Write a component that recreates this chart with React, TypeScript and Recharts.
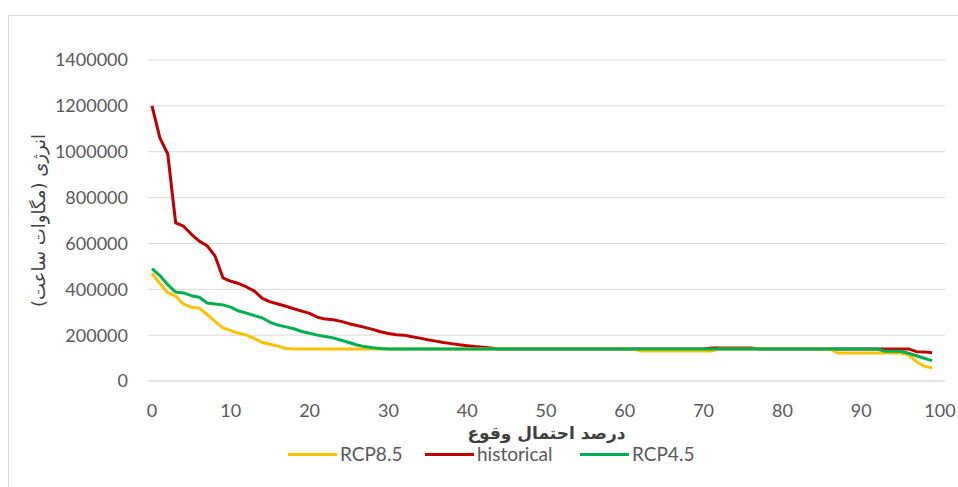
import { CartesianGrid, Legend, Line, LineChart, XAxis, YAxis } from "recharts";

// percent of occurrence (x) and energy in MWh for each scenario
const percent = [
  0, 1, 2, 3, 4, 5, 6, 7, 8, 9,
  10, 11, 12, 13, 14, 15, 16, 17, 18, 19,
  20, 21, 22, 23, 24, 25, 26, 27, 28, 29,
  30, 31, 32, 33, 34, 35, 36, 37, 38, 39,
  40, 41, 42, 43, 44, 45, 46, 47, 48, 49,
  50, 51, 52, 53, 54, 55, 56, 57, 58, 59,
  60, 61, 62, 63, 64, 65, 66, 67, 68, 69,
  70, 71, 72, 73, 74, 75, 76, 77, 78, 79,
  80, 81, 82, 83, 84, 85, 86, 87, 88, 89,
  90, 91, 92, 93, 94, 95, 96, 97, 98, 99,
];

const historical = [
  1200000, 1060000, 990000, 690000, 675000, 640000, 610000, 590000, 545000, 450000,
  435000, 425000, 410000, 392000, 360000, 345000, 336000, 326000, 315000, 305000,
  295000, 278000, 270000, 267000, 260000, 250000, 242000, 234000, 225000, 215000,
  207000, 202000, 200000, 193000, 187000, 180000, 174000, 168000, 163000, 158000,
  154000, 150000, 147000, 144000, 140000, 140000, 140000, 140000, 140000, 140000,
  140000, 140000, 140000, 140000, 140000, 140000, 140000, 140000, 140000, 140000,
  140000, 140000, 140000, 140000, 140000, 140000, 140000, 140000, 140000, 140000,
  140000, 144000, 144000, 144000, 144000, 144000, 144000, 140000, 140000, 140000,
  140000, 140000, 140000, 140000, 140000, 140000, 140000, 140000, 140000, 140000,
  140000, 140000, 140000, 140000, 140000, 140000, 140000, 128000, 127000, 123000,
];

const rcp85 = [
  470000, 425000, 385000, 370000, 335000, 322000, 318000, 290000, 260000, 232000,
  220000, 208000, 200000, 185000, 168000, 160000, 152000, 142000, 140000, 140000,
  140000, 140000, 140000, 140000, 140000, 140000, 140000, 140000, 140000, 140000,
  140000, 140000, 140000, 140000, 140000, 140000, 140000, 140000, 140000, 140000,
  140000, 140000, 140000, 140000, 140000, 140000, 140000, 140000, 140000, 140000,
  140000, 140000, 140000, 140000, 140000, 140000, 140000, 140000, 140000, 140000,
  140000, 140000, 131000, 131000, 131000, 131000, 131000, 131000, 131000, 131000,
  131000, 131000, 140000, 140000, 140000, 140000, 140000, 140000, 140000, 140000,
  140000, 140000, 140000, 140000, 140000, 140000, 140000, 122000, 122000, 122000,
  122000, 122000, 122000, 122000, 122000, 122000, 114000, 85000, 65000, 57000,
];

const rcp45 = [
  490000, 460000, 420000, 388000, 384000, 372000, 365000, 340000, 336000, 332000,
  322000, 305000, 296000, 285000, 275000, 256000, 244000, 236000, 228000, 216000,
  208000, 200000, 194000, 188000, 178000, 168000, 157000, 150000, 145000, 142000,
  140000, 140000, 140000, 140000, 140000, 140000, 140000, 140000, 140000, 140000,
  140000, 140000, 140000, 140000, 140000, 140000, 140000, 140000, 140000, 140000,
  140000, 140000, 140000, 140000, 140000, 140000, 140000, 140000, 140000, 140000,
  140000, 140000, 140000, 140000, 140000, 140000, 140000, 140000, 140000, 140000,
  140000, 140000, 140000, 140000, 140000, 140000, 140000, 140000, 140000, 140000,
  140000, 140000, 140000, 140000, 140000, 140000, 140000, 140000, 140000, 140000,
  140000, 140000, 140000, 130000, 130000, 130000, 121000, 110000, 99000, 89000,
];

const xTicks = [0, 10, 20, 30, 40, 50, 60, 70, 80, 90, 100];
const yTicks = [0, 200000, 400000, 600000, 800000, 1000000, 1200000, 1400000];

const xTitle = "درصد احتمال وقوع";
const yTitle = "انرژی (مگاوات ساعت)";

// legend order differs from draw order (green sits on top of the plateau)
const series = [
  { key: "rcp85", name: "RCP8.5", color: "#FFC000" },
  { key: "historical", name: "historical", color: "#C00000" },
  { key: "rcp45", name: "RCP4.5", color: "#00B050" },
];
const drawOrder = ["historical", "rcp85", "rcp45"];

const data = percent.map((p, i) => ({
  percent: p,
  historical: historical[i],
  rcp85: rcp85[i],
  rcp45: rcp45[i],
}));

const tickFont = { fill: "#595959", fontSize: 18, fontFamily: "Lato, 'Open Sans', sans-serif" };

function ChartLegend() {
  return (
    <div style={{ display: "flex", paddingLeft: 288, height: 18, alignItems: "center" }}>
      {series.map((s) => (
        <div key={s.key} style={{ display: "flex", alignItems: "center", width: s.key === "rcp45" ? 130 : s.key === "rcp85" ? 137 : 155 }}>
          <span style={{ width: 49, height: 3, background: s.color, marginRight: 3 }} />
          <span style={{ fontFamily: tickFont.fontFamily, color: "#595959", fontSize: 19, lineHeight: "18px" }}>{s.name}</span>
        </div>
      ))}
    </div>
  );
}

export default function App() {
  // fixed so the full 958x487 frame never creates scrollbars
  return (
    <div style={{ position: "fixed", top: 0, left: 0, width: 958, height: 487, overflow: "hidden", background: "#fff" }}>
      <div
        style={{
          position: "absolute",
          top: 15,
          left: 8,
          width: 960,
          height: 480,
          borderTop: "1px solid #d9d9d9",
          borderLeft: "1px solid #d9d9d9",
        }}
      />
      <LineChart
        width={958}
        height={487}
        data={data}
        margin={{ top: 60, right: 13, left: 0, bottom: 24 }}
        style={{ position: "absolute", top: 0, left: 0 }}
      >
        <CartesianGrid vertical={false} stroke="#d9d9d9" strokeWidth={1} />
        <XAxis
          dataKey="percent"
          type="number"
          domain={[0, 100]}
          ticks={xTicks}
          padding={{ left: 4, right: 5 }}
          height={64}
          tickLine={false}
          axisLine={{ stroke: "#d9d9d9" }}
          tick={tickFont}
          tickMargin={17}
          label={{
            content: ({ viewBox }: any) => (
              <text
                x={viewBox.x + viewBox.width / 2}
                y={viewBox.y + 52}
                textAnchor="middle"
                dominantBaseline="central"
                direction="rtl"
                fill="#404040"
                fontSize={17}
                fontWeight="bold"
                fontFamily="'DejaVu Sans', sans-serif"
              >
                {xTitle}
              </text>
            ),
          }}
        />
        <YAxis
          domain={[0, 1400000]}
          ticks={yTicks}
          width={148}
          tickLine={false}
          axisLine={false}
          tick={tickFont}
          tickMargin={14}
          interval={0}
          label={{
            content: ({ viewBox }: any) => {
              const cx = 38;
              const cy = viewBox.y + viewBox.height / 2;
              return (
                <text
                  x={cx}
                  y={cy}
                  transform={`rotate(-90, ${cx}, ${cy})`}
                  textAnchor="middle"
                  dominantBaseline="central"
                  direction="rtl"
                  fill="#404040"
                  fontSize={18}
                  fontFamily="'DejaVu Sans', sans-serif"
                >
                  {yTitle}
                </text>
              );
            },
          }}
        />
        <Legend verticalAlign="bottom" content={<ChartLegend />} wrapperStyle={{ left: 0, width: 958 }} />
        {drawOrder.map((k) => {
          const s = series.find((x) => x.key === k)!;
          return (
            <Line
              key={s.key}
              type="linear"
              dataKey={s.key}
              name={s.name}
              stroke={s.color}
              strokeWidth={3}
              dot={false}
              activeDot={false}
              strokeLinejoin="round"
              isAnimationActive={false}
            />
          );
        })}
      </LineChart>
    </div>
  );
}
